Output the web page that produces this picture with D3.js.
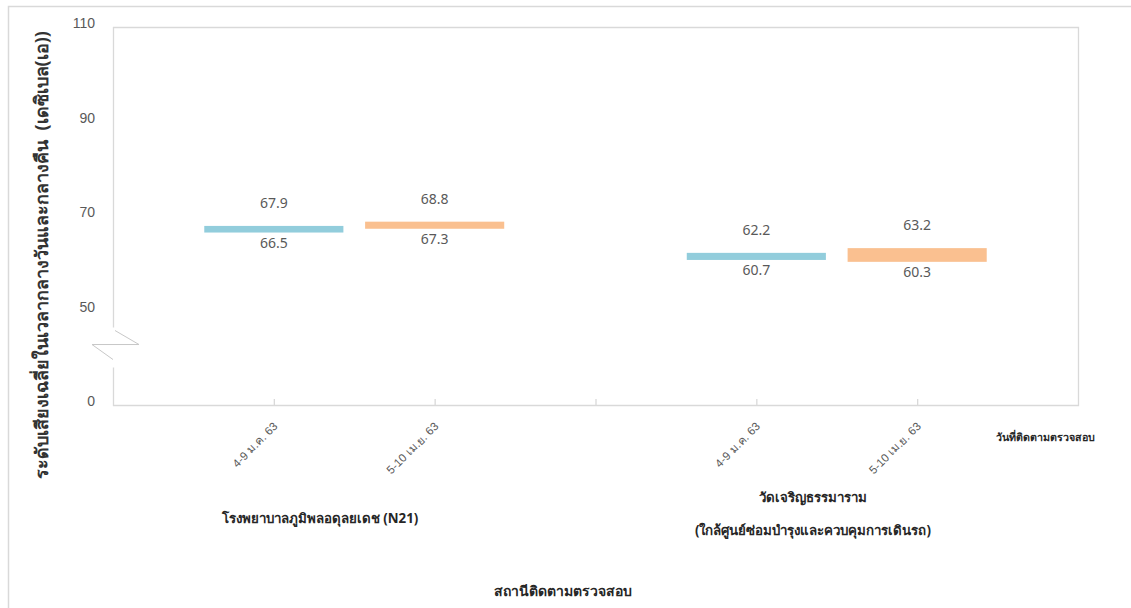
<!DOCTYPE html>
<html>
<head>
<meta charset="utf-8">
<script src="https://cdn.jsdelivr.net/npm/d3@7"></script>
<style>
  html, body { margin: 0; padding: 0; background: #fff; }
  svg { display: block; font-family: "Noto Sans", "DejaVu Sans", sans-serif; }
</style>
</head>
<body>
<svg id="chart" width="1131" height="608"></svg>
<script>
// Monitoring periods (x categories), one entry per bar
const periods = ["4-9 ม.ค. 63", "5-10 เม.ย. 63", "4-9 ม.ค. 63", "5-10 เม.ย. 63"];
// Slot index of each bar along the x axis (slot 3 is the gap between stations)
const slots = [1, 2, 4, 5];
const stations = [
  ["โรงพยาบาลภูมิพลอดุลยเดช (N21)"],
  ["วัดเจริญธรรมาราม", "(ใกล้ศูนย์ซ่อมบำรุงและควบคุมการเดินรถ)"]
];
// Lowest and highest average level for each period, dB(A)
const minValues = [66.5, 67.3, 60.7, 60.3];
const maxValues = [67.9, 68.8, 62.2, 63.2];
// Y axis ticks (axis is broken below 50)
const yTickValues = [30, 50, 70, 90, 110];
const yTickLabels = ["0", "50", "70", "90", "110"];
const barColors = ["#92CDDC", "#FAC090"];

const svg = d3.select("#chart");
const mLeft = 113, mRight = 1078, mTop = 27, mBottom = 405;
const frameColor = "#d9d9d9";
const textColor = "#595959";

// Chart outer border
svg.append("path")
  .attr("d", `M8.5,620 V6.5 H1140`)
  .attr("fill", "none").attr("stroke", frameColor).attr("stroke-width", 1.5);

const x = d3.scalePoint().domain(d3.range(7)).range([mLeft, mRight]);
const y = d3.scaleLinear().domain([30, 110]).range([mBottom, mTop]);
const step = x.step();
const barW = step * 0.865;

// Plot frame: top, right, bottom
svg.append("path")
  .attr("d", `M${mLeft},${mTop + 0.5} H${mRight + 0.5} V${mBottom + 0.5} H${mLeft}`)
  .attr("fill", "none").attr("stroke", frameColor).attr("stroke-width", 1.3);

// Left axis with a break between 0 and 50
const yb = y(42.8);
svg.append("path")
  .attr("d", `M${mLeft + 0.5},${mTop} V${yb - 17} M${mLeft + 0.5},${yb + 23} V${mBottom + 1}`)
  .attr("fill", "none").attr("stroke", frameColor).attr("stroke-width", 1.3);
svg.append("path")
  .attr("d", `M${mLeft + 2},${yb - 14} L${mLeft + 26},${yb} L${mLeft - 21},${yb} L${mLeft},${yb + 15}`)
  .attr("fill", "none").attr("stroke", "#c8c8c8").attr("stroke-width", 1);

// Y axis labels
const yAxis = d3.axisLeft(y).tickValues(yTickValues)
  .tickFormat((d, i) => yTickLabels[i]).tickSize(0).tickPadding(18);
const gy = svg.append("g").attr("transform", `translate(${mLeft},0)`).call(yAxis);
gy.select(".domain").remove();
gy.selectAll("text").attr("fill", textColor).attr("font-size", 14).attr("dy", "0.05em");

// X axis: inner ticks at every slot boundary, date labels under bars
const xAxis = d3.axisBottom(x).tickValues([1, 2, 3, 4, 5])
  .tickSize(-6).tickPadding(0)
  .tickFormat(i => { const k = slots.indexOf(i); return k >= 0 ? periods[k] : ""; });
const gx = svg.append("g").attr("transform", `translate(0,${mBottom})`).call(xAxis);
gx.select(".domain").remove();
gx.selectAll("line").attr("stroke", frameColor).attr("stroke-width", 1.3);
gx.selectAll("text")
  .attr("fill", textColor).attr("font-size", 11.5)
  .attr("text-anchor", "end").attr("dy", 0).attr("y", 0)
  .attr("transform", "translate(4,22) rotate(-45)");

// Range bars (min to max)
svg.append("g").selectAll("rect")
  .data(slots)
  .join("rect")
  .attr("x", (s) => x(s) - barW / 2)
  .attr("width", barW)
  .attr("y", (s, i) => y(maxValues[i]))
  .attr("height", (s, i) => y(minValues[i]) - y(maxValues[i]))
  .attr("fill", (s, i) => barColors[i % 2]);

// Value labels: max above, min below
const labels = svg.append("g").attr("fill", textColor).attr("font-size", 14).attr("text-anchor", "middle");
labels.selectAll("text.max").data(slots).join("text").attr("class", "max")
  .attr("x", s => x(s)).attr("y", (s, i) => y(maxValues[i]) - 18)
  .text((s, i) => maxValues[i].toFixed(1));
labels.selectAll("text.min").data(slots).join("text").attr("class", "min")
  .attr("x", s => x(s)).attr("y", (s, i) => y(minValues[i]) + 15)
  .text((s, i) => minValues[i].toFixed(1));

// Station names under each pair of periods
const stationX = [320, 813];
const stationY = [518, 497];
stations.forEach((lines, k) => {
  const t = svg.append("text")
    .attr("x", stationX[k]).attr("y", stationY[k])
    .attr("text-anchor", "middle").attr("font-size", 13.3).attr("font-weight", "bold")
    .attr("fill", "#262626").attr("dominant-baseline", "central");
  lines.forEach((line, j) => {
    t.append("tspan").attr("x", stationX[k]).attr("dy", j === 0 ? 0 : 33).text(line);
  });
});

// Axis titles
svg.append("text")
  .attr("x", 1045).attr("y", 437)
  .attr("text-anchor", "middle").attr("dominant-baseline", "central")
  .attr("font-size", 10.7).attr("font-weight", "bold").attr("fill", "#262626")
  .text("วันที่ติดตามตรวจสอบ");

svg.append("text")
  .attr("x", 563).attr("y", 590)
  .attr("text-anchor", "middle").attr("dominant-baseline", "central")
  .attr("font-size", 14).attr("font-weight", "bold").attr("fill", "#262626")
  .text("สถานีติดตามตรวจสอบ");

svg.append("text")
  .attr("transform", "translate(41,255) rotate(-90)")
  .attr("text-anchor", "middle").attr("dominant-baseline", "central")
  .style("white-space", "pre")
  .attr("font-size", 18).attr("font-weight", "bold").attr("fill", "#333333")
  .text("ระดับเสียงเฉลี่ยในเวลากลางวันและกลางคืน  (เดซิเบล(เอ))");
</script>
</body>
</html>
